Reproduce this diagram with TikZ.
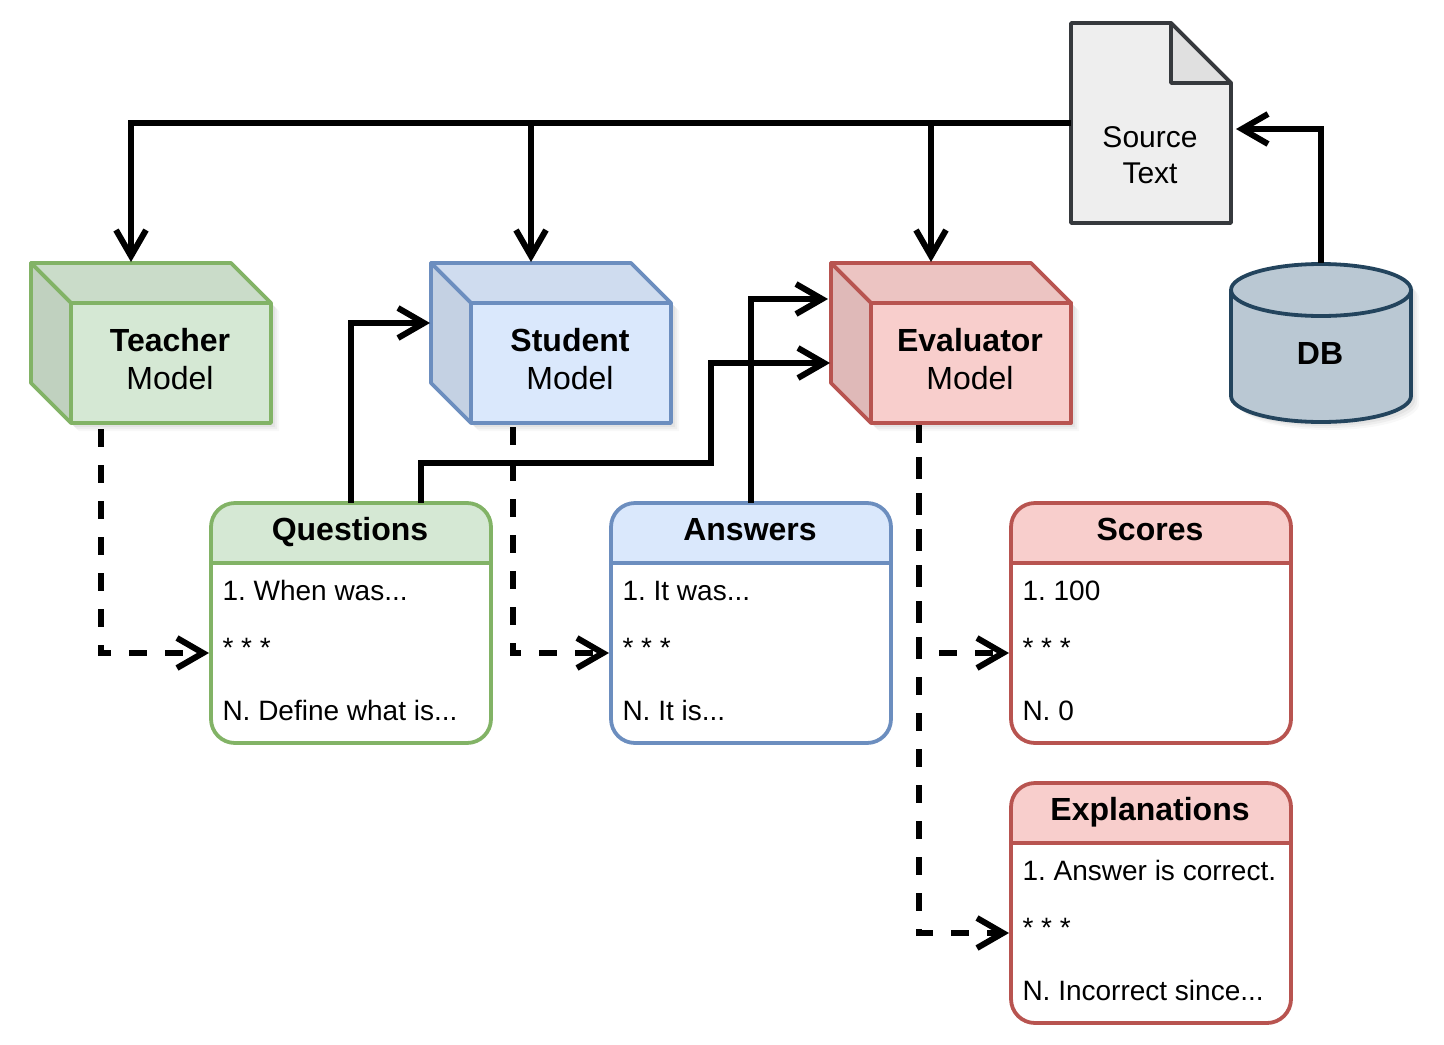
\documentclass[tikz,border=0pt]{standalone}
\usepackage{fontspec}
\setmainfont{Liberation Sans}
\usetikzlibrary{arrows.meta,shadows}
\definecolor{greenfill}{HTML}{D5E8D4}
\definecolor{greenline}{HTML}{82B366}
\definecolor{bluefill}{HTML}{DAE8FC}
\definecolor{blueline}{HTML}{6C8EBF}
\definecolor{redfill}{HTML}{F8CECC}
\definecolor{redline}{HTML}{B85450}
\definecolor{docfill}{HTML}{EEEEEE}
\definecolor{docline}{HTML}{36393D}
\definecolor{dbfill}{HTML}{BAC8D3}
\definecolor{dbline}{HTML}{23445D}
\newcommand{\cutoff}{...}
\tikzset{softshadow/.style={drop shadow={opacity=.06,shadow xshift=4pt,shadow yshift=-4pt,shadow scale=1},
drop shadow={opacity=.08,shadow xshift=3pt,shadow yshift=-3pt,shadow scale=1},
drop shadow={opacity=.1,shadow xshift=2pt,shadow yshift=-2pt,shadow scale=1}},
shapeline/.style={line width=1.9pt,line join=round},
blank/.style={inner sep=0pt,outer sep=0pt},
front/.style={blank,shapeline,draw,minimum width=100pt,minimum height=60pt},
listbox/.style={blank,fill=white,rounded corners=12pt,minimum width=140pt,minimum height=120pt},
item/.style={blank,anchor=base west,font=\fontsize{14}{16}\selectfont},
flow/.style={line width=3pt,-{Straight Barb[length=13pt,width=15pt,line width=3pt]}},
dashflow/.style={flow,dash pattern=on 9pt off 9pt}}

\begin{document}
\frenchspacing
\begin{tikzpicture}[x=.5pt,y=-.5pt]
	\useasboundingbox (0,0) rectangle (1444,1044);
	% the three models
	\foreach \n/\x/\c/\t in {
			teacher/31/green/Teacher,
			student/431/blue/Student,
			evaluator/831/red/Evaluator
		}{
		\pgfmathsetmacro\xa{\x+40}\pgfmathsetmacro\xb{\x+200}\pgfmathsetmacro\xc{\x+240}\pgfmathsetmacro\xd{\x+140}
		\path[softshadow,fill=white] (\x,263)--(\xb,263)--(\xc,303)--(\xc,423)--(\xa,423)--(\x,383)--cycle;
		\draw[shapeline,draw=\c line,fill=\c fill!95!black] (\x,263)--(\xb,263)--(\xc,303)--(\xa,303)--cycle;
		\draw[shapeline,draw=\c line,fill=\c fill!90!black] (\x,263)--(\xa,303)--(\xa,423)--(\x,383)--cycle;
		\node[front,draw=\c line,fill=\c fill] (\n) at (\xd,363) {};
		\node[blank,align=center,font=\fontsize{16}{19}\selectfont] (\n-text) at (\xd-1,359.5) {\textbf{\t}\\Model};
		\coordinate (\n-top) at (\x+100,262);
	}
	% source text and database
	\draw[shapeline,draw=docline,fill=docfill] (1071,23)--(1171,23)--(1231,83)--(1231,223)--(1071,223)--cycle;
	\draw[shapeline,draw=docline,fill=docfill!94!black] (1171,23)--(1231,83)--(1171,83)--cycle;
	\node[blank,minimum width=80pt,minimum height=100pt] (source) at (1151,123) {};
	\node[blank,align=center,font=\fontsize{15}{18}\selectfont] (sourcetext) at (1150,155) {Source\\Text};
	\draw[shapeline,draw=dbline,fill=dbfill,softshadow] (1231,290) arc[start angle=180,end angle=0,x radius=90,y radius=-26]
		--(1411,396) arc[start angle=0,end angle=-180,x radius=90,y radius=-26]--cycle;
	\draw[shapeline,draw=dbline] (1231,290) arc[start angle=180,end angle=360,x radius=90,y radius=-26];
	\node[blank,minimum width=90pt,minimum height=80pt] (db) at (1321,343) {};
	\node[blank,font=\fontsize{16}{19}\selectfont\bfseries] (dbtext) at (1320,353) {DB};
	% the four lists
	\foreach \n/\x/\y/\c/\t/\a/\b in {
			questions/211/503/green/Questions/1. When was\cutoff/N. Define what is\cutoff,
			answers/611/503/blue/Answers/1. It was\cutoff/N. It is\cutoff,
			scores/1011/503/red/Scores/1. 100/N. 0,
			explanations/1011/783/red/Explanations/1. Answer is correct./N. Incorrect since\cutoff
		}{
		\pgfmathsetmacro\xa{\x+140}\pgfmathsetmacro\xb{\x+280}\pgfmathsetmacro\xc{\x+11.5}
		\pgfmathsetmacro\ya{\y+60}\pgfmathsetmacro\yb{\y+120}\pgfmathsetmacro\yc{\y+240}
		\node[listbox] (\n) at (\xa,\yb) {};
		\fill[\c fill] (\x,\ya) [rounded corners=12pt] -- (\x,\y) -- (\xb,\y) [sharp corners] -- (\xb,\ya) -- cycle;
		\draw[shapeline,draw=\c line,rounded corners=12pt] (\x,\yc)--(\x,\y)--(\xb,\y)--(\xb,\yc)--cycle;
		\draw[shapeline,draw=\c line] (\x,\ya)--(\xb,\ya);
		\node[blank,anchor=base,font=\fontsize{16}{19}\selectfont\bfseries] (\n-title) at (\xa-1,\y+37) {\t};
		\node[item] (\n-first) at (\xc,\y+97) {\a};
		\node[item] (\n-dots) at (\xc,\y+154) {* * *};
		\node[item] (\n-last) at (\xc,\y+217) {\b};
		\coordinate (\n-in) at (\x-2,\y+150);
	}
	% free ends that sit off the anchors
	\coordinate (question-out) at (351,503);
	\coordinate (question-side) at (421,503);
	\coordinate (answer-out) at (751,503);
	\coordinate (student-in) at (430,323);
	\coordinate (evaluator-in) at (830,363);
	\coordinate (evaluator-high) at (828,299);
	\coordinate (source-in) at (1236,129);
	\coordinate (db-out) at (1321,263);
	\coordinate (teacher-out) at (101,429);
	\coordinate (student-out) at (513,427);
	\coordinate (evaluator-out) at (919,425);
	\coordinate (question-bend) at (711,463);
	% solid connectors
	\draw[flow] (source.west) -| (teacher-top);
	\draw[flow] (student-top |- source.west) -- (student-top);
	\draw[flow] (evaluator-top |- source.west) -- (evaluator-top);
	\draw[flow] (db-out) |- (source-in);
	\draw[flow] (question-out) |- (student-in);
	\draw[flow] (question-side) |- (question-bend) |- (evaluator-in);
	\draw[flow] (answer-out) |- (evaluator-high);
	% dashed connectors
	\draw[dashflow] (teacher-out) |- (questions-in);
	\draw[dashflow] (student-out) |- (answers-in);
	\draw[dashflow] (evaluator-out) |- (explanations-in);
	\draw[dashflow,dash phase=2pt] (evaluator-out) |- (scores-in);
\end{tikzpicture}
\end{document}
